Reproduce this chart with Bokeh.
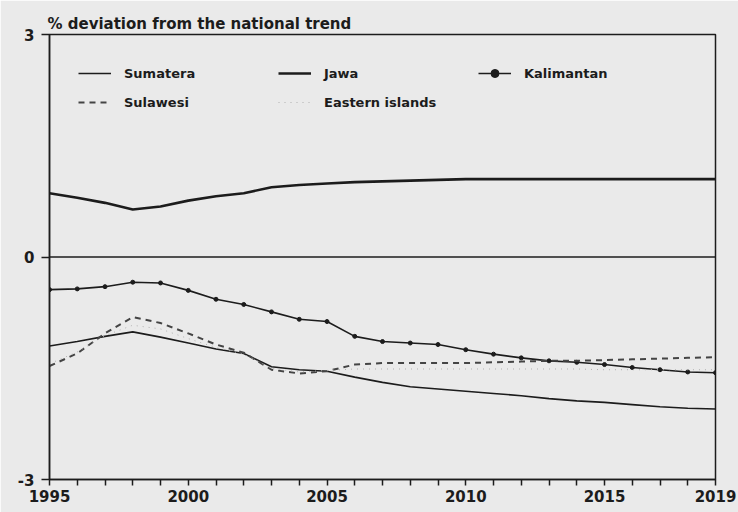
from bokeh.plotting import figure
from bokeh.models import (Legend, LegendItem, Span, FixedTicker, Range1d)
from bokeh.embed import file_html
from bokeh.resources import INLINE

# Regional deviation from the national trend, in percent
years = list(range(1995, 2020))

sumatera = [-1.20, -1.14, -1.07, -1.01, -1.08, -1.16, -1.24, -1.30, -1.48, -1.52,
            -1.54, -1.62, -1.69, -1.75, -1.78, -1.81, -1.84, -1.87, -1.91, -1.94,
            -1.96, -1.99, -2.02, -2.04, -2.05]
jawa = [0.86, 0.80, 0.73, 0.64, 0.68, 0.76, 0.82, 0.86, 0.94, 0.97,
        0.99, 1.01, 1.02, 1.03, 1.04, 1.05, 1.05, 1.05, 1.05, 1.05,
        1.05, 1.05, 1.05, 1.05, 1.05]
kalimantan = [-0.44, -0.43, -0.40, -0.34, -0.35, -0.45, -0.57, -0.64, -0.74, -0.84,
              -0.87, -1.07, -1.14, -1.16, -1.18, -1.25, -1.31, -1.36, -1.40, -1.42,
              -1.45, -1.49, -1.52, -1.55, -1.56]
sulawesi = [-1.47, -1.30, -1.03, -0.81, -0.89, -1.03, -1.18, -1.29, -1.52, -1.57,
            -1.54, -1.45, -1.43, -1.43, -1.43, -1.43, -1.42, -1.41, -1.40, -1.40,
            -1.39, -1.38, -1.37, -1.36, -1.35]
eastern = [-1.44, -1.28, -1.06, -0.92, -0.97, -1.10, -1.22, -1.31, -1.50, -1.55,
           -1.53, -1.51, -1.51, -1.51, -1.51, -1.51, -1.51, -1.51, -1.51, -1.51,
           -1.52, -1.52, -1.52, -1.52, -1.52]

x_labels = {1995: "1995", 2000: "2000", 2005: "2005", 2010: "2010", 2015: "2015", 2019: "2019"}
y_ticks = [-3, 0, 3]

FONT = "DejaVu Sans"
INK = "#1c1c1c"
BG = "#eaeaea"

p = figure(width=738, height=512, output_backend="svg", toolbar_location=None,
           x_range=Range1d(1995, 2019), y_range=Range1d(-3, 3),
           min_border_left=49, min_border_right=23, min_border_top=34, min_border_bottom=33,
           background_fill_color=BG, border_fill_color=BG)

p.title.text = "% deviation from the national trend"
p.title.text_font = FONT
p.title.text_font_size = "15px"
p.title.text_font_style = "bold"
p.title.text_color = INK
p.title.align = "left"
p.title.offset = -2
p.title.standoff = 4

p.xgrid.visible = False
p.ygrid.visible = False
p.outline_line_color = INK
p.outline_line_width = 1.5

# axes
xa = p.xaxis[0]
xa.ticker = FixedTicker(ticks=years)
xa.major_label_overrides = {y: x_labels.get(y, "") for y in years}
ya = p.yaxis[0]
ya.ticker = FixedTicker(ticks=y_ticks)
ya.major_label_overrides = {-3: "-3", 0: "0", 3: "3"}
for ax in (xa, ya):
    ax.axis_line_color = INK
    ax.axis_line_width = 1.5
    ax.major_tick_line_color = INK
    ax.major_tick_line_width = 1.5
    ax.major_tick_in = 0
    ax.minor_tick_line_color = None
    ax.major_label_text_font = FONT
    ax.major_label_text_font_style = "bold"
    ax.major_label_text_font_size = "15px"
    ax.major_label_text_color = INK
xa.major_tick_out = 6
xa.major_label_standoff = 4
ya.major_tick_out = 8
ya.major_label_standoff = 7

p.add_layout(Span(location=0, dimension="width", line_color=INK, line_width=1.5))

# series
r_sum = p.line(years, sumatera, line_color=INK, line_width=1.6)
r_jaw = p.line(years, jawa, line_color=INK, line_width=2.6)
r_kal = p.line(years, kalimantan, line_color=INK, line_width=1.6)
r_kal_pts = p.scatter(years, kalimantan, size=4, fill_color=INK, line_color=INK)
r_sul = p.line(years, sulawesi, line_color="#444444", line_width=2.0, line_dash="6 5")
r_eas = p.line(years, eastern, line_color="#b0b0b0", line_width=1.0, line_dash="1 5")

legend = Legend(items=[
    LegendItem(label="Sumatera", renderers=[r_sum]),
    LegendItem(label="Jawa", renderers=[r_jaw]),
    LegendItem(label="Kalimantan", renderers=[r_kal, r_kal_pts]),
    LegendItem(label="Sulawesi", renderers=[r_sul]),
    LegendItem(label="Eastern islands", renderers=[r_eas]),
], location="top_left", orientation="horizontal", ncols=3,
    margin=20, padding=9, spacing=9,
    glyph_width=33, glyph_height=20, label_height=20, label_width=145,
    label_standoff=13,
    label_text_font=FONT, label_text_font_style="bold", label_text_font_size="13px",
    label_text_color=INK,
    background_fill_alpha=0, border_line_alpha=0)
p.add_layout(legend)

open("out.html", "w").write(file_html(p, INLINE))
